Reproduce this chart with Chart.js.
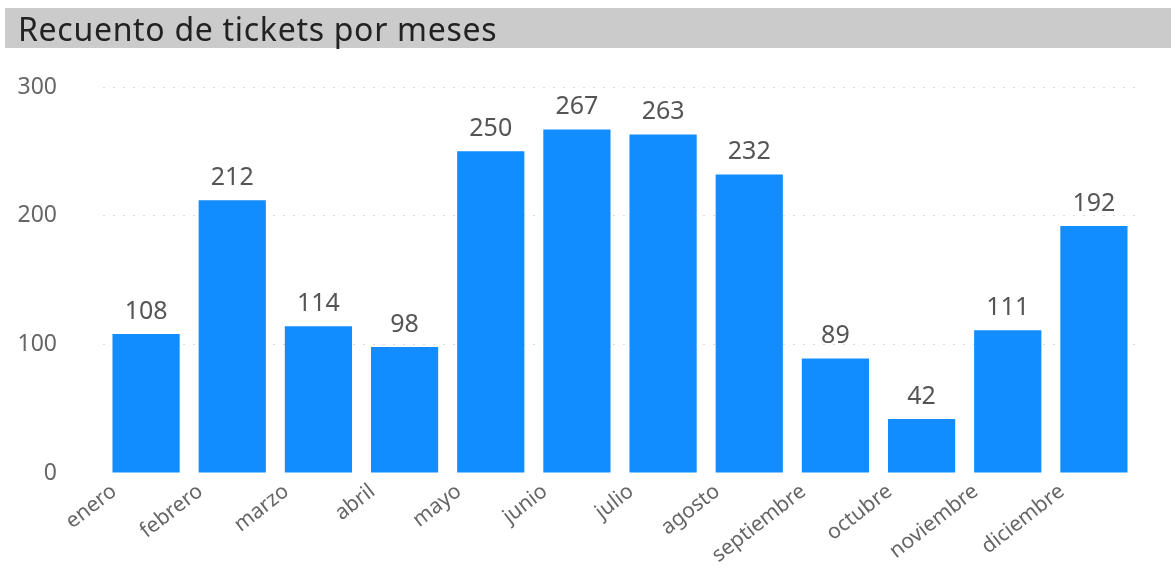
<!DOCTYPE html>
<html>
<head>
<meta charset="utf-8">
<script src="https://cdn.jsdelivr.net/npm/chart.js@4"></script>
<style>
  html, body { margin: 0; padding: 0; background: #fff; }
  #wrap { position: relative; width: 1171px; height: 572px; }
  #title {
    position: absolute; left: 5px; top: 8px; right: 0; height: 40px;
    background: #cbcbcb; color: #222222;
    font-family: "Noto Sans", sans-serif; font-size: 32px;
    line-height: 42px; padding-left: 13px; box-sizing: border-box;
    letter-spacing: 0.7px;
  }
  canvas { position: absolute; left: 0; top: 0; }
</style>
</head>
<body>
<div id="wrap">
  <canvas id="ticketsChart" width="1171" height="572"></canvas>
  <div id="title">Recuento de tickets por meses</div>
</div>
<script>
const meses = ['enero', 'febrero', 'marzo', 'abril', 'mayo', 'junio', 'julio',
  'agosto', 'septiembre', 'octubre', 'noviembre', 'diciembre'];
const tickets = [108, 212, 114, 98, 250, 267, 263, 232, 89, 42, 111, 192];
const yTicks = [0, 100, 200, 300];

// etiquetas de valor encima de cada barra
const valueLabels = {
  id: 'valueLabels',
  afterDatasetsDraw(chart) {
    const ctx = chart.ctx;
    const meta = chart.getDatasetMeta(0);
    ctx.save();
    ctx.font = '25px "Noto Sans", sans-serif';
    ctx.fillStyle = '#555555';
    ctx.textAlign = 'center';
    ctx.textBaseline = 'bottom';
    meta.data.forEach((bar, i) => {
      ctx.fillText(String(tickets[i]), bar.x, bar.y - 10);
    });
    ctx.restore();
  }
};

const ctx = document.getElementById('ticketsChart').getContext('2d');
new Chart(ctx, {
  type: 'bar',
  data: {
    labels: meses,
    datasets: [{
      data: tickets,
      backgroundColor: '#118DFF',
      borderWidth: 0,
      barPercentage: 0.78,
      categoryPercentage: 1
    }]
  },
  plugins: [valueLabels],
  options: {
    responsive: false,
    animation: false,
    layout: { padding: { top: 87, right: 34, left: 0, bottom: 0 } },
    plugins: {
      legend: { display: false },
      tooltip: { enabled: false }
    },
    scales: {
      y: {
        min: 0,
        max: 300,
        afterBuildTicks: s => { s.ticks = yTicks.map(v => ({ value: v })); },
        afterFit: s => { s.width = 103; },
        border: { display: false, dash: [2, 8] },
        grid: {
          drawTicks: false,
          color: ctx => ctx.tick.value === 0 ? 'rgba(0,0,0,0)' : '#dcdcdc',
          lineWidth: 1
        },
        ticks: {
          padding: 46,
          color: '#666666',
          font: { family: 'Noto Sans', size: 23 }
        }
      },
      x: {
        afterFit: s => { s.height = 99; },
        border: { display: false },
        grid: { display: false, drawTicks: false },
        ticks: {
          minRotation: 38,
          maxRotation: 38,
          padding: 6,
          labelOffset: -32,
          color: '#666666',
          font: { family: 'Noto Sans', size: 21 }
        }
      }
    }
  }
});
</script>
</body>
</html>
